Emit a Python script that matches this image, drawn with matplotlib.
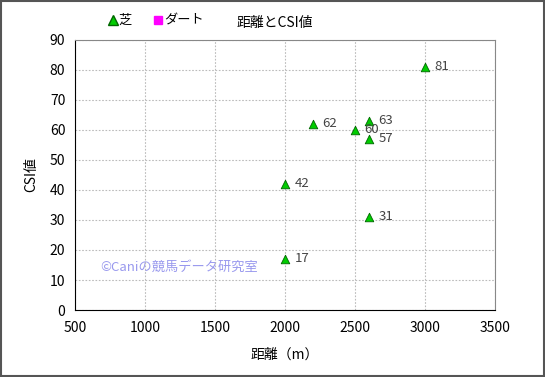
import matplotlib
matplotlib.use("Agg")
import matplotlib.pyplot as plt
from matplotlib.lines import Line2D

plt.rcParams['font.family'] = ['Noto Sans CJK JP', 'DejaVu Sans']

distance = [2000, 2000, 2200, 2500, 2600, 2600, 2600, 3000]
csi = [17, 42, 62, 60, 63, 57, 31, 81]
labels = ["17", "42", "62", "60", "63", "57", "31", "81"]
xticks = [500, 1000, 1500, 2000, 2500, 3000, 3500]
yticks = [0, 10, 20, 30, 40, 50, 60, 70, 80, 90]

fig = plt.figure(figsize=(5.45, 3.77), dpi=100)
fig.patches.append(plt.Rectangle((0.002, 0.003), 0.996, 0.994, transform=fig.transFigure,
                                 fill=False, edgecolor="#555555", linewidth=1.5))
ax = fig.add_axes([0.1376, 0.1777, 0.7706, 0.7163])

ax.scatter(distance, csi, marker="^", s=38, color="#00cc00", edgecolors="#006600",
           linewidths=0.6, zorder=3)
for x, y, t in zip(distance, csi, labels):
    ax.annotate(t, (x, y), xytext=(7, 0), textcoords="offset points",
                fontsize=9.5, color="#444444", va="center")

ax.set_xlim(500, 3500)
ax.set_ylim(0, 90)
ax.set_xticks(xticks)
ax.set_yticks(yticks)
ax.tick_params(length=0, labelsize=10)
ax.tick_params(axis="x", pad=8)
ax.tick_params(axis="y", pad=7)
ax.grid(True, color="#bbbbbb", linestyle=(0, (1.5, 1.5)), linewidth=0.8)
ax.spines["left"].set_color("black")
ax.spines["bottom"].set_color("black")
ax.spines["top"].set_color("#888888")
ax.spines["right"].set_color("#888888")

ax.set_xlabel("距離（m）", fontsize=10, labelpad=9)
ax.set_ylabel("CSI値", fontsize=10, labelpad=8)

ax.text(0.06, 0.145, "©Caniの競馬データ研究室", transform=ax.transAxes,
        fontsize=9.5, color="#9999ee", zorder=1)

fig.text(0.505, 0.94, "距離とCSI値", fontsize=10, ha="center", va="center")
handles = [
    Line2D([], [], marker="^", color="#00cc00", markeredgecolor="#006600",
           linestyle="none", markersize=6.5, label="芝"),
    Line2D([], [], marker="s", color="#ff00ff", linestyle="none",
           markersize=6, label="ダート"),
]
fig.legend(handles=handles, loc="center left", bbox_to_anchor=(0.175, 0.945),
           ncol=2, frameon=False, fontsize=9.5, handletextpad=0.05,
           columnspacing=1.6, handlelength=0.8)

fig.savefig("out.png", dpi=100)
